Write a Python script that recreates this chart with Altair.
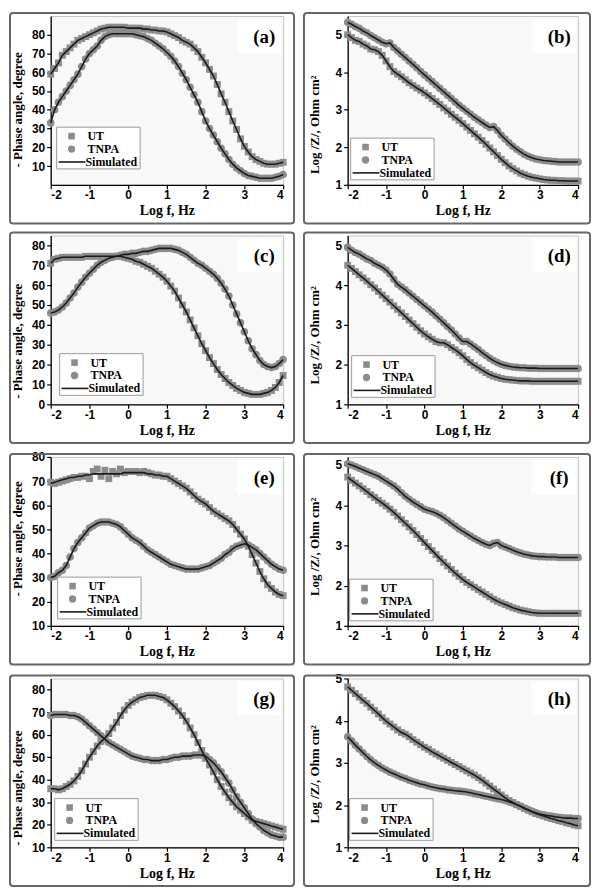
import altair as alt
import pandas as pd

# frequency grid (log f, Hz)
LOG_F = [-2.0, -1.9, -1.8, -1.7, -1.6, -1.5, -1.4, -1.3, -1.2, -1.1,
         -1.0, -0.9, -0.8, -0.7, -0.6, -0.5, -0.4, -0.3, -0.2, -0.1,
         0.0, 0.1, 0.2, 0.3, 0.4, 0.5, 0.6, 0.7, 0.8, 0.9,
         1.0, 1.1, 1.2, 1.3, 1.4, 1.5, 1.6, 1.7, 1.8, 1.9,
         2.0, 2.1, 2.2, 2.3, 2.4, 2.5, 2.6, 2.7, 2.8, 2.9,
         3.0, 3.1, 3.2, 3.3, 3.4, 3.5, 3.6, 3.7, 3.8, 3.9,
         4.0]

# (a) phase angle
UT_A = [59, 62, 65, 69, 71, 73, 75, 77, 78, 79,
        80, 81, 82, 83, 83.5, 84, 84, 84, 84, 84,
        83.5, 83.5, 83.5, 83.5, 83, 83, 82.5, 82.5, 82, 82,
        81.5, 80.5, 79.5, 78.5, 77, 76, 75, 73, 71, 68,
        65, 61.5, 58, 53.5, 48.5, 44, 39, 34, 29.5, 24.5,
        20.5, 17.5, 15, 13.5, 12.5, 11.5, 11, 11, 11, 11.5,
        12]
TN_A = [33, 40, 44, 47, 50, 53, 56, 59, 63, 67,
        70, 72, 74, 77, 79, 80, 80.5, 80.5, 80.5, 80.5,
        80.5, 80.5, 80, 79.5, 79, 78, 77, 75.5, 74, 72.5,
        70.5, 68.5, 66, 63, 59.5, 56, 52, 48, 44, 39,
        34, 30, 26.5, 23, 19.5, 16.5, 13.5, 11, 9, 7.5,
        6, 5, 4.5, 4, 3.5, 3.5, 3.5, 3.5, 4, 4.5,
        5.5]

# (b) log |Z|
UT_B = [5.0, 4.92, 4.85, 4.82, 4.75, 4.7, 4.62, 4.6, 4.55, 4.45,
        4.3, 4.15, 4.02, 3.95, 3.88, 3.8, 3.72, 3.65, 3.58, 3.52,
        3.45, 3.38, 3.3, 3.22, 3.14, 3.05, 2.97, 2.88, 2.8, 2.72,
        2.63, 2.54, 2.45, 2.36, 2.27, 2.18, 2.08, 1.98, 1.88, 1.78,
        1.68, 1.59, 1.5, 1.43, 1.37, 1.31, 1.27, 1.23, 1.2, 1.18,
        1.16, 1.14, 1.13, 1.12, 1.12, 1.11, 1.11, 1.1, 1.1, 1.1,
        1.1]
TN_B = [5.33, 5.28, 5.22, 5.17, 5.1, 5.05, 4.98, 4.92, 4.86, 4.8,
        4.76, 4.78, 4.66, 4.57, 4.48, 4.39, 4.3, 4.21, 4.12, 4.02,
        3.93, 3.84, 3.75, 3.66, 3.57, 3.48, 3.39, 3.3, 3.21, 3.12,
        3.04, 2.96, 2.88, 2.8, 2.73, 2.66, 2.59, 2.53, 2.55, 2.45,
        2.32, 2.22, 2.12, 2.03, 1.95, 1.88, 1.81, 1.76, 1.72, 1.69,
        1.67, 1.65, 1.64, 1.63, 1.62, 1.61, 1.61, 1.61, 1.61, 1.61,
        1.61]

# (c) phase angle
UT_C = [71, 73, 73.5, 74, 74, 74, 74, 74, 74, 74.5,
        74.5, 74.5, 74.5, 74.5, 74.5, 74.5, 74.5, 74.5, 74.5, 74,
        73.5, 73, 72, 71.5, 70.5, 69.5, 68.5, 67, 65.5, 64,
        62, 59.5, 57, 53.5, 50, 46.5, 42.5, 38.5, 34.5, 30.5,
        27, 23.5, 20.5, 17.5, 15, 13, 11, 9.5, 8, 7,
        6, 5.5, 5, 5, 5, 5.5, 6, 7, 8.5, 11,
        14.5]
TN_C = [46, 46.5, 47.5, 49, 51, 53.5, 56, 59, 61.5, 64,
        66, 68, 70, 71.5, 72.5, 73.5, 74, 74.5, 75, 75.5,
        75.5, 76, 76, 76.5, 77, 77, 77.5, 78, 78.5, 78.5,
        78.5, 78.5, 78, 77.5, 76.5, 75.5, 74, 72.5, 71, 70,
        68.5, 67, 65.5, 63.5, 61, 58, 54.5, 50, 45.5, 41,
        36.5, 32, 28, 25, 22, 20, 19, 18.5, 19, 20.5,
        22.5]

# (d) log |Z|
UT_D = [4.5, 4.42, 4.34, 4.26, 4.18, 4.1, 4.01, 3.93, 3.84, 3.75,
        3.66, 3.57, 3.48, 3.39, 3.3, 3.21, 3.12, 3.03, 2.94, 2.85,
        2.77, 2.7, 2.64, 2.58, 2.55, 2.55, 2.5, 2.43, 2.37, 2.3,
        2.22, 2.13, 2.05, 1.98, 1.92, 1.86, 1.8, 1.75, 1.71, 1.68,
        1.65, 1.63, 1.62, 1.61, 1.6, 1.59, 1.59, 1.59, 1.58, 1.58,
        1.58, 1.58, 1.58, 1.58, 1.58, 1.58, 1.58, 1.58, 1.58, 1.58,
        1.58]
TN_D = [4.95, 4.88, 4.82, 4.78, 4.72, 4.66, 4.62, 4.55, 4.5, 4.45,
        4.38, 4.28, 4.15, 4.02, 3.95, 3.88, 3.8, 3.72, 3.64, 3.56,
        3.48, 3.4, 3.32, 3.23, 3.14, 3.05, 2.96, 2.87, 2.77, 2.67,
        2.58, 2.58, 2.52, 2.45, 2.38, 2.3, 2.23, 2.16, 2.1, 2.05,
        2.01, 1.98, 1.96, 1.94, 1.93, 1.92, 1.92, 1.91, 1.91, 1.91,
        1.9, 1.9, 1.9, 1.9, 1.9, 1.9, 1.9, 1.9, 1.9, 1.9,
        1.9]

# (e) phase angle
UT_E = [69.5, 69, 69.5, 70, 70.5, 71, 71.5, 71.5, 72, 72,
        71, 74, 75, 72, 74.5, 71, 74, 73, 75, 73.5,
        74, 74, 74, 73.5, 74, 73.5, 73, 72.5, 72.5, 72,
        72, 71, 70, 69, 68, 67, 65.5, 64, 62.5, 61.5,
        60.5, 59, 57.5, 56.5, 55.5, 54.5, 53.5, 52, 50, 48,
        46, 43, 39.5, 36, 32.5, 29.5, 27, 25.5, 24, 23,
        22.5]
UT_E_FIT = [69, 69.5, 70, 70.5, 71, 71.5, 71.5, 72, 72, 72.5,
            72.5, 73, 73, 73, 73, 73, 73, 73, 73, 73.5,
            73.5, 73.5, 73.5, 73.5, 73.5, 73, 73, 72.5, 72.5, 72,
            72, 71, 70, 69, 68, 67, 65.5, 64, 62.5, 61.5,
            60.5, 59, 57.5, 56.5, 55.5, 54.5, 53.5, 52, 50, 48,
            46, 43, 39.5, 36, 32.5, 29.5, 27, 25.5, 24, 23,
            22.5]
TN_E = [30, 30.5, 32, 33, 35, 38.5, 42, 44.5, 46.5, 48.5,
        50.5, 51.5, 52.5, 53, 53, 53, 52.5, 52, 51, 49.5,
        48, 46.5, 45.5, 44.5, 43, 41.5, 40.5, 39.5, 38.5, 37.5,
        36.5, 35.5, 35, 34.5, 34, 33.5, 33.5, 33.5, 33.5, 34,
        34.5, 35, 36, 37, 38, 39.5, 40.5, 42, 43, 43.5,
        44, 43.5, 42.5, 41.5, 40, 38.5, 37, 35.5, 34.5, 33.5,
        33]

# (f) log |Z|
UT_F = [4.7, 4.62, 4.55, 4.48, 4.41, 4.34, 4.26, 4.19, 4.12, 4.05,
        3.98, 3.9, 3.82, 3.73, 3.64, 3.55, 3.46, 3.37, 3.27, 3.17,
        3.07, 2.97, 2.87, 2.77, 2.67, 2.58, 2.49, 2.4, 2.31, 2.23,
        2.15, 2.08, 2.02, 1.96, 1.9, 1.84, 1.78, 1.72, 1.66, 1.61,
        1.57, 1.53, 1.49, 1.45, 1.42, 1.39, 1.37, 1.35, 1.33, 1.32,
        1.31, 1.31, 1.31, 1.31, 1.31, 1.31, 1.31, 1.31, 1.31, 1.31,
        1.31]
TN_F = [5.03, 5.0, 4.96, 4.92, 4.88, 4.84, 4.8, 4.76, 4.72, 4.66,
        4.6, 4.54, 4.48, 4.4, 4.31, 4.22, 4.15, 4.08, 4.02, 3.96,
        3.9, 3.87, 3.84, 3.8, 3.75, 3.69, 3.62, 3.55, 3.48, 3.41,
        3.35, 3.29, 3.23, 3.17, 3.12, 3.07, 3.03, 3.0, 3.05, 3.07,
        3.0, 2.96, 2.92, 2.88, 2.84, 2.81, 2.78, 2.76, 2.74, 2.73,
        2.72, 2.72, 2.71, 2.71, 2.71, 2.7, 2.7, 2.7, 2.7, 2.7,
        2.7]

# (g) phase angle
UT_G = [36, 36, 35.5, 36, 37, 38, 39.5, 41.5, 44, 47,
        50, 52.5, 55, 57, 58.5, 60.5, 63, 65.5, 68.5, 71,
        73, 74.5, 75.5, 76.5, 77, 77.5, 77.5, 77.5, 77, 76.5,
        75.5, 74, 72.5, 70.5, 68.5, 66, 63, 60, 56.5, 53,
        49.5, 46.5, 43.5, 40, 37, 34.5, 32, 30, 28, 26.5,
        25, 23.5, 22, 21.5, 21, 20.5, 20, 19.5, 19, 18.5,
        18]
TN_G = [68.5, 69, 69, 69, 69, 68.5, 68.5, 68, 67, 65.5,
        64, 62.5, 61, 59.5, 58, 56.5, 55.5, 54.5, 53.5, 52.5,
        51.5, 50.5, 50, 49.5, 49, 49, 48.5, 48.5, 48.5, 49,
        49, 49.5, 50, 50, 50.5, 50.5, 50.5, 51, 51, 51,
        50.5, 49, 47.5, 45.5, 43.5, 41, 38.5, 35.5, 32.5, 30,
        27.5, 25, 22.5, 20.5, 19, 17.5, 16.5, 15.5, 15, 14.5,
        14.5]

# (h) log |Z|
UT_H = [4.8, 4.72, 4.64, 4.56, 4.48, 4.41, 4.32, 4.24, 4.16, 4.07,
        3.99, 3.92, 3.85, 3.78, 3.72, 3.68, 3.62, 3.55, 3.49, 3.43,
        3.37, 3.32, 3.26, 3.21, 3.16, 3.11, 3.06, 3.01, 2.96, 2.91,
        2.86, 2.81, 2.76, 2.71, 2.65, 2.59, 2.52, 2.45, 2.38, 2.31,
        2.24, 2.17, 2.11, 2.06, 2.01, 1.97, 1.92, 1.88, 1.84, 1.8,
        1.77, 1.74, 1.71, 1.68, 1.66, 1.63, 1.61, 1.58, 1.56, 1.53,
        1.51]
TN_H = [3.62, 3.52, 3.42, 3.33, 3.24, 3.15, 3.07, 3.0, 2.94, 2.88,
        2.83, 2.78, 2.74, 2.7, 2.66, 2.63, 2.59, 2.56, 2.53, 2.5,
        2.48, 2.45, 2.43, 2.41, 2.39, 2.38, 2.36, 2.35, 2.34, 2.33,
        2.32, 2.31, 2.29, 2.27, 2.25, 2.23, 2.21, 2.19, 2.17, 2.15,
        2.13, 2.11, 2.08, 2.05, 2.01, 1.97, 1.93, 1.89, 1.85, 1.82,
        1.79, 1.77, 1.75, 1.74, 1.72, 1.71, 1.7, 1.69, 1.69, 1.68,
        1.68]

X_TICKS = [-2, -1, 0, 1, 2, 3, 4]
PHASE_TICKS = [10, 20, 30, 40, 50, 60, 70, 80]
PHASE_TICKS_0 = [0, 10, 20, 30, 40, 50, 60, 70, 80]
Z_TICKS = [1, 2, 3, 4, 5]
SERIES = ["UT", "TNPA", "Simulated"]
PHASE_TITLE = "- Phase angle, degree"
Z_TITLE = "Log /Z/, Ohm cm\u00b2"

GRAY = "#8c8c8c"
LINE = "#1a1a1a"
SERIF = "Liberation Serif"
SANS = "Liberation Sans"
W_L, W_R, H = 234, 232, 170
ONE = pd.DataFrame({"k": [0]})

# label, y title, y domain, y ticks, UT, TNPA, UT fit, TNPA fit, legend x, legend bottom, title y, column
PANELS = [
    ("(a)", PHASE_TITLE, [0, 90], PHASE_TICKS, UT_A, TN_A, None, None, 6, 16, 94, 0),
    ("(b)", Z_TITLE, [1, 5.5], Z_TICKS, UT_B, TN_B, None, None, 3, 5, 109, 1),
    ("(c)", PHASE_TITLE, [0, 85], PHASE_TICKS_0, UT_C, TN_C, None, None, 9, 9, 106, 0),
    ("(d)", Z_TITLE, [1, 5.25], Z_TICKS, UT_D, TN_D, None, None, 4, 7, 100, 1),
    ("(e)", PHASE_TITLE, [10, 80], PHASE_TICKS, UT_E, TN_E, UT_E_FIT, None, 7, 7, 82, 0),
    ("(f)", Z_TITLE, [1, 5.2], Z_TICKS, UT_F, TN_F, None, None, 2, 5, 90, 1),
    ("(g)", PHASE_TITLE, [10, 85], PHASE_TICKS, UT_G, TN_G, None, None, 4, 7, 110, 0),
    ("(h)", Z_TITLE, [1, 5], Z_TICKS, UT_H, TN_H, None, None, 2, 7, 96, 1),
]


def make_panel(label, ytitle, ydom, yticks, ut, tn, ut_fit, tn_fit, lx, lb, ty, col):
    W = W_L if col == 0 else W_R
    n = len(LOG_F)
    pts = pd.DataFrame({"logf": LOG_F + LOG_F, "val": ut + tn,
                        "series": ["UT"] * n + ["TNPA"] * n})
    fit = pd.DataFrame({"logf": LOG_F + LOG_F,
                        "val": (ut_fit if ut_fit else ut) + (tn_fit if tn_fit else tn),
                        "curve": ["UT"] * n + ["TNPA"] * n})
    xenc = alt.X("logf:Q", scale=alt.Scale(domain=[-2, 4], nice=False, zero=False),
                 axis=alt.Axis(values=X_TICKS, labelExpr="'' + datum.value", title="Log f, Hz",
                               tickSize=4, labelPadding=1, titlePadding=3, titleFontSize=14))
    yenc = alt.Y("val:Q", scale=alt.Scale(domain=ydom, nice=False, zero=False),
                 axis=alt.Axis(values=yticks, labelExpr="'' + datum.value", title=ytitle,
                               tickSize=4, labelPadding=2, titleFontSize=13,
                               titleX=-26, titleY=ty, titleAngle=270,
                               titleAlign="center", titleBaseline="bottom"))
    ut_pts = alt.Chart(pts).transform_filter(alt.datum.series == "UT").mark_point(
        shape="square", filled=True, size=48, color=GRAY, opacity=1).encode(x=xenc, y=yenc)
    tn_pts = alt.Chart(pts).transform_filter(alt.datum.series == "TNPA").mark_point(
        shape="circle", filled=True, size=58, color=GRAY, opacity=1).encode(x=xenc, y=yenc)
    lines = alt.Chart(fit).mark_line(color=LINE, strokeWidth=1.6).encode(
        x=xenc, y=yenc, detail="curve:N")

    top = H - lb - 42
    leg_box = alt.Chart(ONE).mark_rect(fill="white", stroke="#9a9a9a", strokeWidth=1).encode(
        x=alt.value(lx), x2=alt.value(lx + 84), y=alt.value(top), y2=alt.value(top + 42))
    leg_sq = alt.Chart(ONE).mark_point(shape="square", filled=True, size=44, color=GRAY,
                                       opacity=1).encode(x=alt.value(lx + 15), y=alt.value(top + 9))
    leg_ci = alt.Chart(ONE).mark_point(shape="circle", filled=True, size=54, color=GRAY,
                                       opacity=1).encode(x=alt.value(lx + 15), y=alt.value(top + 22))
    leg_ln = alt.Chart(ONE).mark_rule(color=LINE, strokeWidth=1.6).encode(
        x=alt.value(lx + 2), x2=alt.value(lx + 29), y=alt.value(top + 35))

    def leg_txt(t, x, y):
        return alt.Chart(ONE).mark_text(text=t, align="left", baseline="middle", font=SERIF,
                                        fontSize=12, fontWeight="bold", color="black").encode(
            x=alt.value(x), y=alt.value(y))

    t1 = leg_txt(SERIES[0], lx + 31, top + 9)
    t2 = leg_txt(SERIES[1], lx + 31, top + 22)
    t3 = leg_txt(SERIES[2], lx + 29, top + 35)

    lab_box = alt.Chart(ONE).mark_rect(fill="white").encode(
        x=alt.value(W - 46), x2=alt.value(W - 2), y=alt.value(3), y2=alt.value(37))
    lab = alt.Chart(ONE).mark_text(text=label, font=SERIF, fontSize=19, fontWeight="bold",
                                   align="center", baseline="middle", color="black").encode(
        x=alt.value(W - 19), y=alt.value(21))

    left = 41 if col == 0 else 44
    right = 11 if col == 0 else 12
    frame = alt.Chart(ONE).mark_rect(fill="transparent", stroke="#666666", strokeWidth=2,
                                     cornerRadius=3).encode(
        x=alt.value(-left), x2=alt.value(W + right), y=alt.value(-3), y2=alt.value(H + 39))

    return alt.layer(ut_pts, tn_pts, lines, leg_box, leg_sq, leg_ci, leg_ln, t1, t2, t3,
                     lab_box, lab, frame).properties(width=W, height=H)


panels = [make_panel(*p) for p in PANELS]
rows = [alt.hconcat(panels[i], panels[i + 1], spacing=6) for i in range(0, 8, 2)]

chart = alt.vconcat(*rows, spacing=5).properties(padding=0).configure_view(
    stroke="#c4c4c4", fill="#f8f8f8"
).configure_axis(
    grid=False, labelFont=SANS, labelFontWeight="bold", labelFontSize=12, labelColor="black",
    titleFont=SERIF, titleFontWeight="bold", titleColor="black",
    domainColor="black", domainWidth=1.3, tickColor="black", tickWidth=1.2
)

chart.save("out.html", embed_options={"renderer": "svg", "actions": False})
